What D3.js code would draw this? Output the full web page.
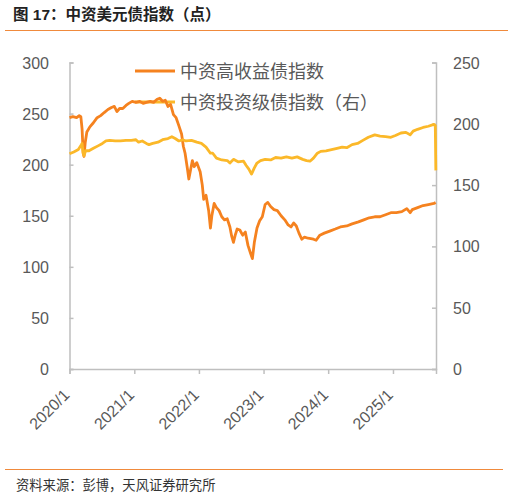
<!DOCTYPE html>
<html>
<head>
<meta charset="utf-8">
<script src="https://cdn.jsdelivr.net/npm/d3@7"></script>
<style>
    body { margin: 0; background: #fff; }
    svg text { font-family: "Liberation Sans", "Noto Sans CJK SC", sans-serif; }
</style>
</head>
<body>
<div id="chart"></div>
<script>
// 中资高收益债指数 (left axis)
const hyDates = ["2020-01-01","2020-01-20","2020-02-10","2020-02-25","2020-03-05","2020-03-12","2020-03-18","2020-03-23","2020-03-30","2020-04-08",
    "2020-04-25","2020-05-15","2020-06-05","2020-06-25","2020-07-15","2020-08-05","2020-08-25","2020-09-10","2020-09-25","2020-10-10",
    "2020-10-28","2020-11-15","2020-12-01","2020-12-20","2021-01-10","2021-02-01","2021-02-20","2021-03-10","2021-04-01","2021-04-20",
    "2021-05-10","2021-05-25","2021-06-10","2021-06-25","2021-07-10","2021-07-25","2021-08-10","2021-08-25","2021-09-10","2021-09-25",
    "2021-10-05","2021-10-15","2021-10-28","2021-11-05","2021-11-15","2021-11-25","2021-12-05","2021-12-20","2022-01-08","2022-01-20",
    "2022-01-28","2022-02-10","2022-02-25","2022-03-07","2022-03-15","2022-03-28","2022-04-10","2022-04-25","2022-05-10","2022-05-25",
    "2022-06-10","2022-06-25","2022-07-05","2022-07-15","2022-07-25","2022-08-05","2022-08-20","2022-09-05","2022-09-20","2022-10-05",
    "2022-10-20","2022-10-30","2022-11-10","2022-11-25","2022-12-10","2022-12-25","2023-01-10","2023-01-25","2023-02-10","2023-03-01",
    "2023-03-20","2023-04-10","2023-05-01","2023-05-20","2023-06-05","2023-06-20","2023-07-05","2023-07-20","2023-08-05","2023-08-20",
    "2023-09-10","2023-10-10","2023-10-25","2023-11-15","2023-12-10","2024-01-10","2024-02-10","2024-03-10","2024-04-15","2024-05-15",
    "2024-06-20","2024-07-20","2024-08-20","2024-09-20","2024-10-20","2024-11-20","2024-12-20","2025-01-20","2025-02-20","2025-03-20",
    "2025-04-08","2025-04-20","2025-05-20","2025-06-20","2025-07-20","2025-08-20","2025-08-30"];
const hyValues = [246,247,246,248,247,235,212,208,222,232,
    237,241,246,248,251,254,256,257,252,255,
    255,258,260,262,261,262,260,261,262,261,
    264,265,262,263,257,259,249,246,238,230,
    218,211,196,186,195,204,198,202,193,180,
    166,170,155,138,150,162,158,155,149,146,
    147,139,130,124,131,137,136,131,134,121,
    113,108,124,138,145,149,161,163,159,156,
    155,150,146,141,139,143,140,133,127,129,
    128,127,126,131,133,135,137,139,140,142,
    144,146,148,149,149,151,153,153,154,157,
    153,156,158,160,161,162,163];

// 中资投资级债指数 (right axis)
const igDates = ["2020-01-01","2020-01-25","2020-02-20","2020-03-08","2020-03-12","2020-03-18","2020-03-23","2020-04-01","2020-04-20","2020-05-15",
    "2020-06-10","2020-07-05","2020-07-25","2020-08-15","2020-09-15","2020-10-15","2020-11-15","2020-12-15","2021-01-10","2021-01-25",
    "2021-02-15","2021-03-10","2021-03-25","2021-04-15","2021-05-15","2021-06-10","2021-07-10","2021-08-01","2021-08-20","2021-09-10",
    "2021-10-01","2021-10-20","2021-11-20","2021-12-20","2022-01-15","2022-02-10","2022-03-07","2022-03-20","2022-04-10","2022-05-10",
    "2022-06-10","2022-06-25","2022-07-15","2022-08-10","2022-09-10","2022-09-25","2022-10-10","2022-10-25","2022-11-10","2022-11-25",
    "2022-12-15","2023-01-10","2023-02-10","2023-03-10","2023-04-10","2023-05-10","2023-06-10","2023-07-10","2023-08-10","2023-09-01",
    "2023-09-20","2023-10-10","2023-11-01","2023-11-20","2023-12-20","2024-01-20","2024-02-20","2024-03-20","2024-04-15","2024-05-15",
    "2024-06-15","2024-07-15","2024-08-15","2024-09-20","2024-10-20","2024-11-20","2024-12-20","2025-01-15","2025-02-15","2025-03-15",
    "2025-04-08","2025-04-25","2025-05-20","2025-06-20","2025-07-20","2025-08-20","2025-08-28","2025-08-31"];
const igValues = [175.5,177,179,183,184,176,174,178,178,180,
    182,184,186,186.5,186,186,186.5,186.5,187,185,
    186,184,183,184,185,187,188,189.5,188,186,
    187,186,186.5,185,184,181,176,176,172,170.5,
    170,168,171,169,169.5,166,163,159,164,168,
    170,171,170.5,172.5,172,173,172,173,171,170,
    169.5,172,176,177.5,178,179,180,181,180.5,183,
    184,186.5,189,191,190,189.5,189,190.5,192.5,193,
    191,194,195.5,197,198,199.5,198.5,162];

const leftTicks = [0, 50, 100, 150, 200, 250, 300];
const rightTicks = [0, 50, 100, 150, 200, 250];
const xTickDates = ["2020-01-01","2021-01-01","2022-01-01","2023-01-01","2024-01-01","2025-01-01"];
const xTickLabels = ["2020/1","2021/1","2022/1","2023/1","2024/1","2025/1"];
const seriesNames = ["中资高收益债指数", "中资投资级债指数（右）"];

const width = 508, height = 497;
const plot = {left: 69.5, right: 436, top: 62.5, bottom: 369};
const orange = "#F5821F", yellow = "#FBB829", grey = "#595959", axisGrey = "#BFBFBF";

const parse = d3.timeParse("%Y-%m-%d");
const hy = hyDates.map((d, i) => ({date: parse(d), value: hyValues[i]}));
const ig = igDates.map((d, i) => ({date: parse(d), value: igValues[i]}));

const svg = d3.select("#chart").append("svg")
    .attr("width", width)
    .attr("height", height);

// title + rules
svg.append("text")
    .attr("x", 13).attr("y", 20)
    .style("font-size", "15.5px").style("font-weight", "bold").style("fill", "#222")
    .text("图 17：中资美元债指数（点）");
svg.append("line").attr("x1", 5).attr("x2", 508).attr("y1", 30.5).attr("y2", 30.5)
    .style("stroke", "#F08A3C").style("stroke-width", 1.2);
svg.append("line").attr("x1", 5).attr("x2", 503).attr("y1", 469.5).attr("y2", 469.5)
    .style("stroke", "#F08A3C").style("stroke-width", 1.2);
svg.append("text")
    .attr("x", 16).attr("y", 490)
    .style("font-size", "13.3px").style("fill", "#333")
    .text("资料来源：彭博，天风证券研究所");

const x = d3.scaleTime()
    .domain([parse("2020-01-01"), parse("2025-09-01")])
    .range([plot.left, plot.right]);
const yLeft = d3.scaleLinear().domain([0, 300]).range([plot.bottom, plot.top]);
const yRight = d3.scaleLinear().domain([0, 250]).range([plot.bottom, plot.top]);

// axes
const leftAxis = svg.append("g")
    .attr("transform", "translate(" + plot.left + ",0)")
    .call(d3.axisRight(yLeft).tickValues(leftTicks).tickSize(4).tickFormat(""));
const rightAxis = svg.append("g")
    .attr("transform", "translate(" + plot.right + ",0)")
    .call(d3.axisLeft(yRight).tickValues(rightTicks).tickSize(4).tickFormat(""));
const bottomAxis = svg.append("g")
    .attr("transform", "translate(0," + plot.bottom + ")")
    .call(d3.axisBottom(x).tickValues(xTickDates.map(parse)).tickSize(5).tickFormat(""));
[leftAxis, rightAxis, bottomAxis].forEach(a => {
    a.selectAll("path, line").style("stroke", axisGrey).style("stroke-width", 1.5);
});

svg.selectAll(".ly")
    .data(leftTicks).enter().append("text")
    .attr("x", 49).attr("y", d => yLeft(d) + 6)
    .style("text-anchor", "end").style("font-size", "16px").style("fill", grey)
    .text(d => d);
svg.selectAll(".ry")
    .data(rightTicks).enter().append("text")
    .attr("x", 453).attr("y", d => yRight(d) + 6)
    .style("font-size", "16px").style("fill", grey)
    .text(d => d);
svg.selectAll(".xl")
    .data(xTickDates).enter().append("text")
    .attr("transform", d => "translate(" + (x(parse(d)) + 1) + "," + (plot.bottom + 27) + ") rotate(-45)")
    .style("text-anchor", "end").style("font-size", "16px").style("fill", grey)
    .text((d, i) => xTickLabels[i]);

// legend (under the lines)
const legend = svg.selectAll(".legend")
    .data(seriesNames).enter().append("g")
    .attr("transform", (d, i) => "translate(135," + (71 + i * 31) + ")");
legend.append("line")
    .attr("x1", 0).attr("x2", 40)
    .style("stroke", (d, i) => i === 0 ? orange : yellow)
    .style("stroke-width", 2.8);
legend.append("text")
    .attr("x", 45).attr("y", 6.5)
    .style("font-size", "18px").style("fill", grey)
    .text(d => d);

// lines
svg.append("path")
    .datum(hy)
    .attr("d", d3.line().x(d => x(d.date)).y(d => yLeft(d.value)))
    .style("fill", "none").style("stroke", orange).style("stroke-width", 2.8)
    .style("stroke-linejoin", "round");
svg.append("path")
    .datum(ig)
    .attr("d", d3.line().x(d => x(d.date)).y(d => yRight(d.value)))
    .style("fill", "none").style("stroke", yellow).style("stroke-width", 2.8)
    .style("stroke-linejoin", "round");
</script>
</body>
</html>
